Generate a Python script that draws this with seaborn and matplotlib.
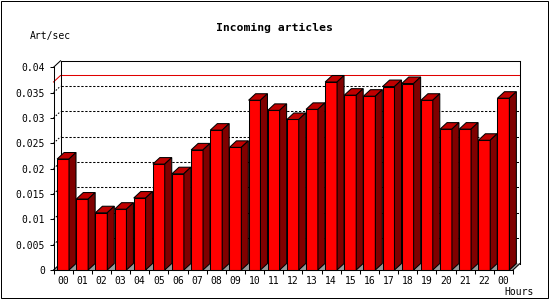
import matplotlib
matplotlib.use("Agg")
import matplotlib.pyplot as plt
import seaborn as sns
import pandas as pd
import numpy as np
from matplotlib.patches import Polygon, Rectangle
from matplotlib.lines import Line2D

# ---- data ----
hours = ["00", "01", "02", "03", "04", "05", "06", "07", "08", "09", "10", "11",
         "12", "13", "14", "15", "16", "17", "18", "19", "20", "21", "22", "00"]
rates = [0.0219, 0.0140, 0.0113, 0.0120, 0.0142, 0.0209, 0.0190, 0.0237,
         0.0276, 0.0242, 0.0335, 0.0315, 0.0297, 0.0317, 0.0371, 0.0345,
         0.0343, 0.0362, 0.0368, 0.0335, 0.0278, 0.0278, 0.0256, 0.0339]
yticks = [0, 0.005, 0.01, 0.015, 0.02, 0.025, 0.03, 0.035, 0.04]
ytick_labels = ["0", "0.005", "0.01", "0.015", "0.02", "0.025", "0.03", "0.035", "0.04"]
title = "Incoming articles"
ylabel = "Art/sec"
xlabel = "Hours"

W, H = 550, 300
FONT = "DejaVu Sans Mono"
plt.rcParams["font.family"] = [FONT]

fig = plt.figure(figsize=(W / 100, H / 100), dpi=100)
fig.patch.set_facecolor("white")

# axes: front plane in pixels
left_px, right_px, bot_px, top_px = 53.5, 513.0, 270.0, 67.3
ax = fig.add_axes([left_px / W, (H - bot_px) / H, (right_px - left_px) / W, (bot_px - top_px) / H])
ax.set_facecolor("none")

n = len(rates)
df = pd.DataFrame({"slot": np.arange(n), "rate": rates})
sns.barplot(data=df, x="slot", y="rate", order=list(range(n)), color="#ff0000",
            saturation=1, width=0.62, edgecolor="black", linewidth=0.75,
            errorbar=None, ax=ax, zorder=5)

ymax = yticks[-1]
ax.set_xlim(-0.5, n - 0.5)
ax.set_ylim(0, ymax)

# 3D depth in data units
dx = 7.0 * n / (right_px - left_px)
dy = 6.5 * ymax / (bot_px - top_px)
x0f, x1f = -0.5, n - 0.5

lw = 0.75
# floor
ax.add_patch(Polygon([(x0f, 0), (x1f, 0), (x1f + dx, dy), (x0f + dx, dy)],
                     closed=True, fc="#999999", ec="none", zorder=1, clip_on=False))
# back grid (dotted)
for v in yticks[1:-1]:
    ax.add_line(Line2D([x0f + dx, x1f + dx], [v + dy, v + dy], color="black", lw=lw,
                       ls=(0, (2.2, 1.6)), zorder=2, clip_on=False))
    ax.add_line(Line2D([x0f, x0f + dx], [v, v + dy], color="black", lw=lw,
                       ls=(0, (1.5, 1.5)), zorder=2, clip_on=False))
# max line (red) on the back wall
m = max(rates)
ax.add_line(Line2D([x0f, x0f + dx, x1f + dx], [m, m + dy, m + dy], color="#e00000",
                   lw=lw, zorder=2.5, clip_on=False))
# back frame
frame_segs = [
    ([x0f + dx, x1f + dx], [ymax + dy, ymax + dy]),
    ([x0f + dx, x0f + dx], [dy, ymax + dy]),
    ([x1f + dx, x1f + dx], [dy, ymax + dy]),
    ([x0f, x0f + dx], [ymax, ymax + dy]),
    ([x0f, x0f + dx], [0, dy]),
    ([x1f, x1f + dx], [0, dy]),
]
for xs, ys in frame_segs:
    ax.add_line(Line2D(xs, ys, color="black", lw=lw, zorder=3, clip_on=False))

# 3D faces of bars
for i, p in enumerate(ax.patches[1:] if False else list(ax.patches)):
    if not hasattr(p, "get_width") or p.get_facecolor()[:3] != (1.0, 0.0, 0.0):
        continue
    bx, bw, bh = p.get_x(), p.get_width(), p.get_height()
    z = 5 + i * 0.01
    p.set_zorder(z)
    p.set_clip_on(False)
    ax.add_patch(Polygon([(bx, bh), (bx + bw, bh), (bx + bw + dx, bh + dy), (bx + dx, bh + dy)],
                         closed=True, fc="#c00000", ec="black", lw=lw, zorder=z, clip_on=False))
    ax.add_patch(Polygon([(bx + bw, 0), (bx + bw + dx, dy), (bx + bw + dx, bh + dy), (bx + bw, bh)],
                         closed=True, fc="#800000", ec="black", lw=lw, zorder=z, clip_on=False))

# spines and ticks
for s in ["top", "right"]:
    ax.spines[s].set_visible(False)
for s in ["left", "bottom"]:
    ax.spines[s].set_linewidth(lw)
    ax.spines[s].set_zorder(6)
ax.set_yticks(yticks, labels=ytick_labels)
ax.set_xticks(range(n), labels=hours)
ax.set_xticks(np.arange(n + 1) - 0.5, minor=True)
ax.tick_params(axis="y", length=3.2, width=lw, pad=2.9, labelsize=7, direction="out")
ax.tick_params(axis="x", which="major", length=0, pad=4.0, labelsize=7)
ax.tick_params(axis="x", which="minor", length=3.0, width=lw, direction="out")
ax.set_xlabel("")
ax.set_ylabel("")

# texts
fig.text(274 / W, 1 - 27.5 / H, title, ha="center", va="center", fontsize=8.2,
         fontweight="bold", family=FONT)
fig.text(30 / W, 1 - 36.5 / H, ylabel, ha="left", va="center", fontsize=7, family=FONT)
fig.text(504 / W, 1 - 292 / H, xlabel, ha="left", va="center", fontsize=7, family=FONT)

# outer border
fig.add_artist(Rectangle((0.5 / W, 2.0 / H), 547.0 / W, 297.5 / H, transform=fig.transFigure,
                         fill=False, ec="black", lw=0.72))

fig.savefig("out.png", dpi=100, facecolor="white")
